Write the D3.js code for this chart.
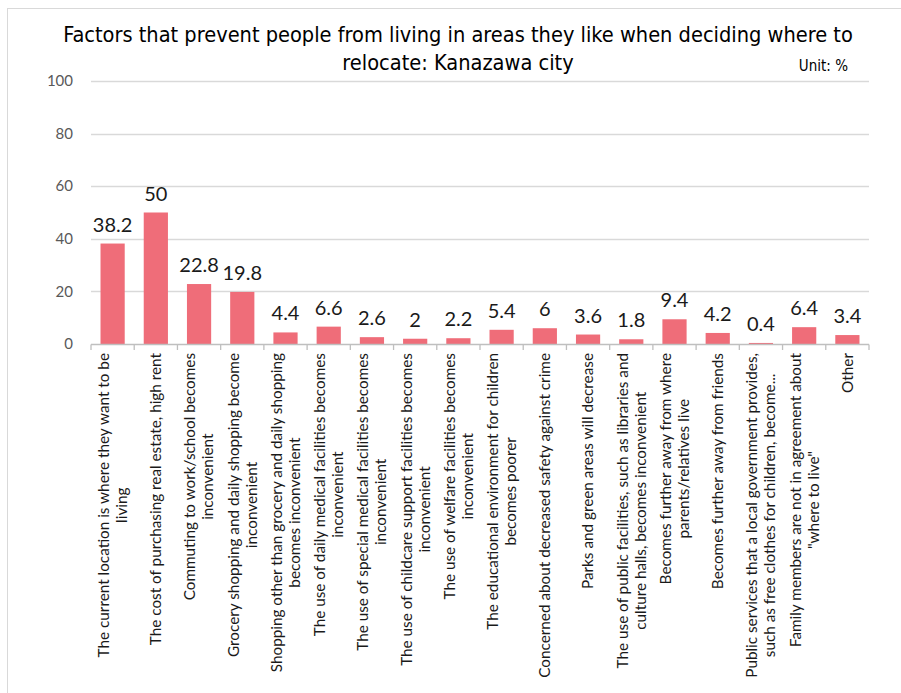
<!DOCTYPE html>
<html>
<head>
	<meta charset="utf-8">
	<title>Kanazawa relocation factors</title>
	<script src="https://cdn.jsdelivr.net/npm/d3@7"></script>
</head>
<style type="text/css">
	body { margin: 0; background-color: #fff; }
</style>
<body>
</body>
</html>
<script type="text/javascript">
	var width = 901;
	var height = 693;

	// category labels, already split where the original wraps them
	var categories = [
		["The current location is where they want to be", "living"],
		["The cost of purchasing real estate, high rent"],
		["Commuting to work/school becomes", "inconvenient"],
		["Grocery shopping and daily shopping become", "inconvenient"],
		["Shopping other than grocery and daily shopping", "becomes inconvenient"],
		["The use of daily medical facilities becomes", "inconvenient"],
		["The use of special medical facilities becomes", "inconvenient"],
		["The use of childcare support facilities becomes", "inconvenient"],
		["The use of welfare facilities becomes", "inconvenient"],
		["The educational environment for children", "becomes poorer"],
		["Concerned about decreased safety against crime"],
		["Parks and green areas will decrease"],
		["The use of public facilities, such as libraries and", "culture halls, becomes inconvenient"],
		["Becomes further away from where", "parents/relatives live"],
		["Becomes further away from friends"],
		["Public services that a local government provides,", "such as free clothes for children, become..."],
		["Family members are not in agreement about", "\"where to live\""],
		["Other"]
	];
	var values = [38.2, 50, 22.8, 19.8, 4.4, 6.6, 2.6, 2, 2.2, 5.4, 6, 3.6, 1.8, 9.4, 4.2, 0.4, 6.4, 3.4];
	var yTicks = [0, 20, 40, 60, 80, 100];
	var titleLines = ["Factors that prevent people from living in areas they like when deciding where to", "relocate: Kanazawa city"];
	var unitText = "Unit: %";

	var labelFont = "Lato, 'Open Sans', sans-serif";
	var titleFont = "'Liberation Sans Narrow', 'Arial Narrow', 'DejaVu Sans Condensed', 'Liberation Sans', sans-serif";

	var svg = d3.select("body").append("svg").attr("width", width).attr("height", height);

	// light frame of the chart area (only top and left edges are in view)
	svg.append("rect").attr("x", 7.5).attr("y", 8.5).attr("width", width).attr("height", height)
		.attr("fill", "none").attr("stroke", "#d9d9d9");

	var x = d3.scaleBand().domain(d3.range(values.length)).range([91, 869]).paddingInner(0.44).paddingOuter(0.22);
	var y = d3.scaleLinear().domain([0, 100]).range([344, 81]);

	// gridlines
	svg.append("g").selectAll("line").data(yTicks.slice(1)).enter().append("line")
		.attr("x1", 91).attr("x2", 869)
		.attr("y1", function(d){return Math.round(y(d)) + 0.5}).attr("y2", function(d){return Math.round(y(d)) + 0.5})
		.attr("stroke", "#d9d9d9").attr("stroke-width", 1.3);

	// y tick labels
	svg.append("g").selectAll("text").data(yTicks).enter().append("text")
		.attr("x", 73).attr("y", function(d){return y(d)})
		.attr("dy", "0.35em").attr("text-anchor", "end")
		.style("font-family", labelFont).style("font-size", "15px").attr("fill", "#595959")
		.text(function(d){return d});

	// bars
	svg.append("g").selectAll("rect").data(values).enter().append("rect")
		.attr("x", function(d,i){return x(i)})
		.attr("width", x.bandwidth())
		.attr("y", function(d){return y(d)})
		.attr("height", function(d){return y(0) - y(d)})
		.attr("fill", "#ef6d79");

	// value labels
	svg.append("g").selectAll("text").data(values).enter().append("text")
		.attr("x", function(d,i){return x(i) + x.bandwidth()/2})
		.attr("y", function(d){return y(d) - 12})
		.attr("text-anchor", "middle")
		.style("font-family", labelFont).style("font-size", "20px").attr("fill", "#1a1a1a")
		.text(function(d){return d});

	// category axis
	var step = x.step();
	svg.append("line").attr("x1", 91).attr("x2", 869).attr("y1", 344.5).attr("y2", 344.5)
		.attr("stroke", "#bfbfbf").attr("stroke-width", 1.3);
	svg.append("g").selectAll("line").data(d3.range(values.length + 1)).enter().append("line")
		.attr("x1", function(d){return 91 + d * step}).attr("x2", function(d){return 91 + d * step})
		.attr("y1", 344.5).attr("y2", 350)
		.attr("stroke", "#bfbfbf").attr("stroke-width", 1.3);

	// rotated category labels, lines centred on the longest one
	var lineH = 18;
	var maxLen = 334; // labels never run past the bottom of the frame
	var labels = svg.append("g").selectAll("g").data(categories).enter().append("g")
		.attr("transform", function(d,i){return "translate(" + (x(i) + x.bandwidth()/2) + ",353) rotate(-90)"});
	labels.each(function(lines){
		var g = d3.select(this);
		var t = g.selectAll("text").data(lines).enter().append("text")
			.attr("text-anchor", "middle")
			.style("font-family", labelFont).style("font-size", "15.3px").attr("fill", "#1a1a1a")
			.attr("y", function(d,j){return (j - (lines.length - 1)/2) * lineH})
			.attr("dy", "0.35em")
			.text(function(d){return d});
		var maxW = 0;
		t.each(function(){
			var w = this.getComputedTextLength();
			if (w > maxLen) {
				d3.select(this).attr("textLength", maxLen).attr("lengthAdjust", "spacingAndGlyphs");
				w = maxLen;
			}
			maxW = Math.max(maxW, w);
		});
		t.attr("x", -maxW/2);
	});

	// title
	svg.append("g").selectAll("text").data(titleLines).enter().append("text")
		.attr("x", 458).attr("y", function(d,i){return 42 + i * 28})
		.attr("text-anchor", "middle")
		.style("font-family", titleFont).style("font-size", "21.6px").attr("fill", "#000")
		.text(function(d){return d});

	svg.append("text").attr("x", 848).attr("y", 71).attr("text-anchor", "end")
		.style("font-family", titleFont).style("font-size", "15px").attr("fill", "#000")
		.text(unitText);
</script>
